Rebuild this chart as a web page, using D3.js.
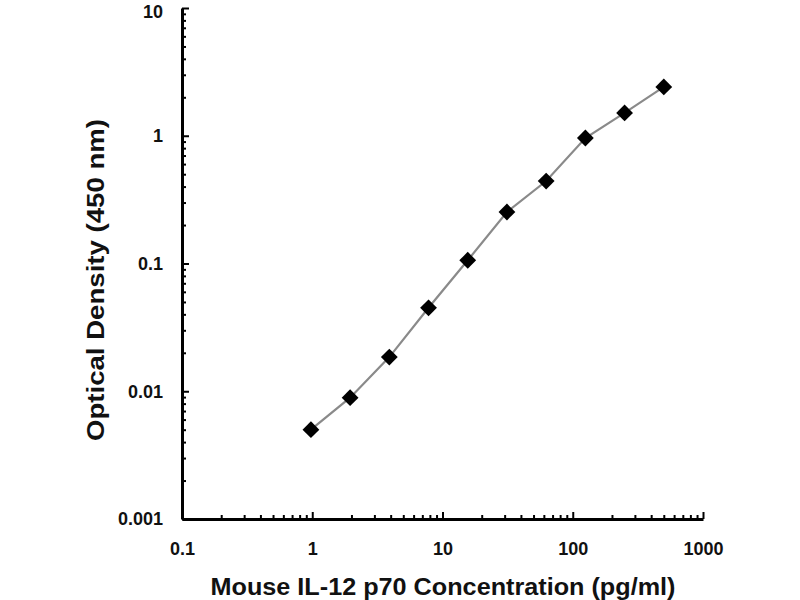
<!DOCTYPE html>
<html>
<head>
<meta charset="utf-8">
<script src="https://cdn.jsdelivr.net/npm/d3@7"></script>
<style>
  html, body { margin: 0; padding: 0; background: #fff; }
  svg { display: block; font-family: "Liberation Sans", Arial, sans-serif; }
</style>
</head>
<body>
<svg id="chart" width="800" height="600"></svg>
<script>
// Data
const concentration = [0.977, 1.953, 3.906, 7.8125, 15.625, 31.25, 62.5, 125, 250, 500];
const opticalDensity = [0.005, 0.0089, 0.0185, 0.045, 0.106, 0.253, 0.442, 0.96, 1.51, 2.41];
const xTickValues = [0.1, 1, 10, 100, 1000];
const xTickLabels = ["0.1", "1", "10", "100", "1000"];
const yTickValues = [0.001, 0.01, 0.1, 1, 10];
const yTickLabels = ["0.001", "0.01", "0.1", "1", "10"];
const xTitle = "Mouse IL-12 p70 Concentration (pg/ml)";
const yTitle = "Optical Density (450 nm)";

const svg = d3.select("#chart");
const x = d3.scaleLog().domain([0.1, 1000]).range([182, 703]);
const y = d3.scaleLog().domain([0.001, 10]).range([519, 8]);

function minorTicks(domainMin, domainMax) {
  const out = [];
  for (let d = domainMin; d < domainMax; d *= 10) {
    for (let k = 2; k <= 9; k++) out.push(+(d * k).toPrecision(6));
  }
  return out;
}

// Minor ticks
svg.append("g")
  .attr("transform", "translate(0,519)")
  .call(d3.axisBottom(x).tickValues(minorTicks(0.1, 1000)).tickSize(-4).tickFormat(""))
  .call(g => g.select(".domain").remove())
  .call(g => g.selectAll(".tick line").attr("stroke", "#000").attr("stroke-width", 2));
svg.append("g")
  .attr("transform", "translate(182,0)")
  .call(d3.axisLeft(y).tickValues(minorTicks(0.001, 10)).tickSize(-4).tickFormat(""))
  .call(g => g.select(".domain").remove())
  .call(g => g.selectAll(".tick line").attr("stroke", "#000").attr("stroke-width", 2));

// Major axes
const xAxis = svg.append("g")
  .attr("transform", "translate(0,519)")
  .call(d3.axisBottom(x).tickValues(xTickValues).tickSize(-7).tickSizeOuter(0).tickPadding(23)
    .tickFormat((d, i) => xTickLabels[i]));
const yAxis = svg.append("g")
  .attr("transform", "translate(182,0)")
  .call(d3.axisLeft(y).tickValues(yTickValues).tickSize(-7).tickSizeOuter(0).tickPadding(19)
    .tickFormat((d, i) => yTickLabels[i]));

[xAxis, yAxis].forEach(g => {
  g.select(".domain").attr("stroke", "#000").attr("stroke-width", 3);
  g.selectAll(".tick line").attr("stroke", "#000").attr("stroke-width", 2);
  g.selectAll(".tick text")
    .attr("fill", "#111")
    .style("font-family", "'Liberation Sans', Arial, sans-serif")
    .style("font-size", "18px")
    .style("font-weight", "bold");
});
// keep the top label inside the picture
yAxis.selectAll(".tick text").filter(d => d === 10).attr("dy", "0.52em");

// Line
const line = d3.line()
  .x((d, i) => x(concentration[i]))
  .y(d => y(d));
svg.append("path")
  .datum(opticalDensity)
  .attr("d", line)
  .attr("fill", "none")
  .attr("stroke", "#8a8a8a")
  .attr("stroke-width", 2.2);

// Diamond markers
svg.append("g")
  .selectAll("path")
  .data(opticalDensity)
  .join("path")
  .attr("d", d3.symbol().type(d3.symbolDiamond2).size(180))
  .attr("transform", (d, i) => `translate(${x(concentration[i])},${y(d)})`)
  .attr("fill", "#000");

// Titles
svg.append("text")
  .attr("x", 443)
  .attr("y", 595)
  .attr("text-anchor", "middle")
  .attr("fill", "#111")
  .attr("textLength", 465)
  .attr("lengthAdjust", "spacingAndGlyphs")
  .style("font-size", "23px")
  .style("font-weight", "bold")
  .text(xTitle);

svg.append("text")
  .attr("transform", "translate(104,280) rotate(-90)")
  .attr("text-anchor", "middle")
  .attr("fill", "#111")
  .attr("textLength", 322)
  .attr("lengthAdjust", "spacingAndGlyphs")
  .style("font-size", "23px")
  .style("font-weight", "bold")
  .text(yTitle);
</script>
</body>
</html>
